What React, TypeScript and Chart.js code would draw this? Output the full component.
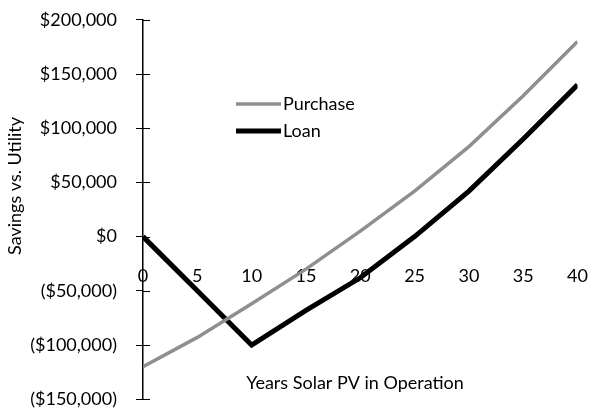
import { useEffect, useRef } from "react";
import { Chart, registerables } from "chart.js";

Chart.register(...registerables);

const years = [0, 5, 10, 15, 20, 25, 30, 35, 40];
const purchase = [-120000, -93000, -62000, -30000, 5000, 42000, 83000, 130000, 180000];
const loan = [0, -50000, -100000, -68000, -38000, 0, 42000, 90000, 140000];
const seriesNames = ["Purchase", "Loan"];
const yTitle = "Savings vs. Utility";
const xTitle = "Years Solar PV in Operation";
const yMin = -150000;
const yMax = 200000;
const yStep = 50000;
const xMin = 0;
const xMax = 40;
const xStep = 5;

const FONT = "Lato, 'Open Sans', sans-serif";
const FS = 18;
const SHIFT_Y = 10;

function money(v: number): string {
  const s = "$" + Math.abs(v).toLocaleString("en-US");
  return v < 0 ? "(" + s + ")" : s;
}

const decorPlugin = {
  id: "decor",
  afterDraw(chart: any) {
    const ctx = chart.ctx as CanvasRenderingContext2D;
    const ys = chart.scales.y;
    const ax = ys.right;
    ctx.save();
    ctx.strokeStyle = "#000";
    ctx.lineWidth = 1;
    for (const t of ys.ticks) {
      const py = Math.round(ys.getPixelForValue(t.value)) + 0.5;
      ctx.beginPath();
      ctx.moveTo(ax, py);
      ctx.lineTo(ax + 7, py);
      ctx.stroke();
    }
    ctx.fillStyle = "#000";
    ctx.font = FS + "px " + FONT;
    ctx.textAlign = "center";
    ctx.textBaseline = "middle";
    ctx.fillText(xTitle, 355, 383 + SHIFT_Y);
    ctx.save();
    ctx.translate(15, 186 + SHIFT_Y);
    ctx.rotate(-Math.PI / 2);
    ctx.fillText(yTitle, 0, 0);
    ctx.restore();
    const ds = chart.data.datasets;
    const lx = 236;
    const rows = [104, 131];
    ds.forEach((d: any, i: number) => {
      const y = rows[i] + SHIFT_Y;
      ctx.strokeStyle = d.borderColor;
      ctx.lineWidth = d.borderWidth;
      ctx.beginPath();
      ctx.moveTo(lx, y);
      ctx.lineTo(lx + 45, y);
      ctx.stroke();
      ctx.textAlign = "left";
      ctx.fillStyle = "#000";
      ctx.fillText(d.label, lx + 47, y);
    });
    ctx.restore();
  },
};

export default function App() {
  const ref = useRef<HTMLCanvasElement | null>(null);
  useEffect(() => {
    if (!ref.current) return;
    const chart = new Chart(ref.current, {
      type: "line",
      data: {
        datasets: [
          {
            label: seriesNames[0],
            data: years.map((x, i) => ({ x, y: purchase[i] })),
            borderColor: "#8f8f8f",
            borderWidth: 3.5,
            pointRadius: 0,
            tension: 0,
          },
          {
            label: seriesNames[1],
            data: years.map((x, i) => ({ x, y: loan[i] })),
            borderColor: "#000000",
            borderWidth: 5,
            pointRadius: 0,
            tension: 0,
          },
        ],
      },
      options: {
        animation: false,
        responsive: true,
        maintainAspectRatio: false,
        layout: { padding: { top: 10, right: -8, bottom: -10, left: 0 } },
        plugins: { legend: { display: false }, tooltip: { enabled: false } },
        scales: {
          x: {
            type: "linear",
            min: xMin,
            max: xMax,
            position: { y: 0 } as any,
            afterFit(scale: any) {
              scale.height = 0;
            },
            border: { display: false },
            grid: { display: false },
            ticks: {
              stepSize: xStep,
              padding: 21,
              color: "#000",
              font: { family: FONT, size: FS },
              maxRotation: 0,
            },
          },
          y: {
            type: "linear",
            min: yMin,
            max: yMax,
            afterFit(scale: any) {
              scale.width = 143;
            },
            border: { display: true, color: "#000", width: 1.5 },
            grid: {
              drawOnChartArea: false,
              drawTicks: true,
              tickLength: 7,
              color: "#000",
              lineWidth: 1,
            },
            ticks: {
              stepSize: yStep,
              padding: 19,
              color: "#000",
              font: { family: FONT, size: FS },
              callback: (v: any) => money(Number(v)),
            },
          },
        },
      },
      plugins: [decorPlugin],
    });
    return () => chart.destroy();
  }, []);
  return (
    <div style={{ position: "fixed", left: 0, top: 0, width: 589, height: 409, overflow: "hidden", background: "#fff" }}>
      <div style={{ position: "absolute", left: 0, top: -SHIFT_Y, width: 609, height: 439 }}>
        <canvas ref={ref} />
      </div>
    </div>
  );
}
